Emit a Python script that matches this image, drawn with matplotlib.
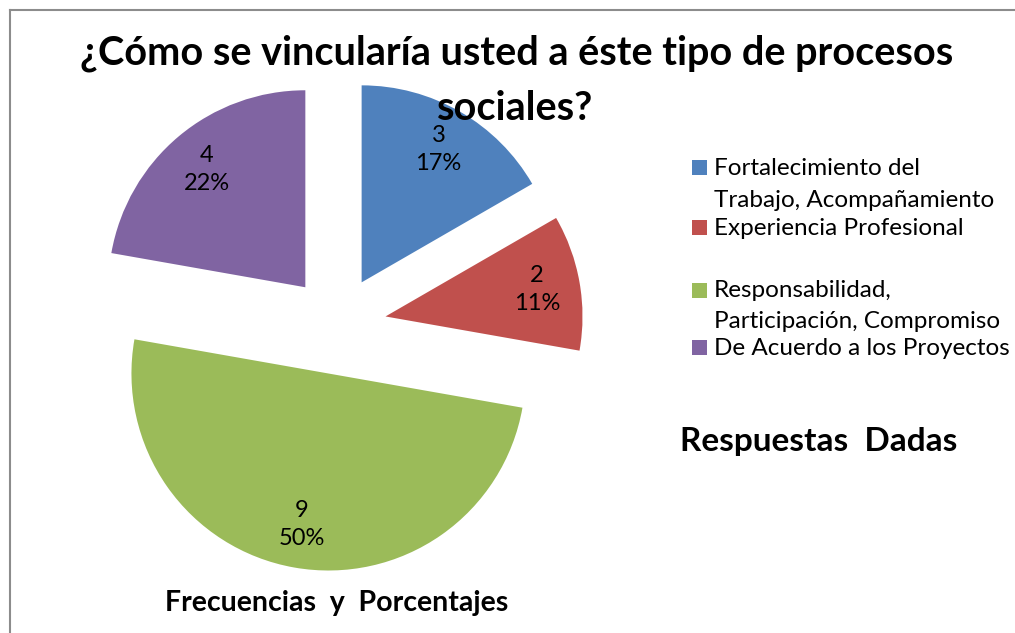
import matplotlib
matplotlib.use("Agg")
import matplotlib.pyplot as plt
from matplotlib.lines import Line2D
from matplotlib.patches import Rectangle

categories = ["Fortalecimiento del\nTrabajo, Acompañamiento",
              "Experiencia Profesional",
              "Responsabilidad,\nParticipación, Compromiso",
              "De Acuerdo a los Proyectos"]
values = [3, 2, 9, 4]
colors = ["#4F81BD", "#C0504D", "#9BBB59", "#8064A2"]
title_lines = ["¿Cómo se vincularía usted a éste tipo de procesos", "sociales?"]
side_title = "Respuestas  Dadas"
bottom_title = "Frecuencias  y  Porcentajes"

W, H = 1015, 633
FONT = "Lato"
fig = plt.figure(figsize=(W / 100, H / 100), dpi=100)

def fx(x):
    return x / W

def fy(y):
    return 1 - y / H

# pie geometry (pixels)
cx, cy, R = 337, 325, 197
ax = fig.add_axes([0, 0, 1, 1])
total = sum(values)

def fmt(p):
    return f"{round(p * total / 100)}\n{p:.0f}%"

ax.pie(values, colors=colors, startangle=90, counterclock=False,
       explode=[0.25] * len(values), radius=1,
       autopct=fmt, pctdistance=0.78,
       textprops=dict(fontsize=17, family=FONT, color="black", linespacing=1.4))
ax.set_xlim(-cx / R, (W - cx) / R)
ax.set_ylim(-(H - cy) / R, cy / R)
ax.set_aspect("equal")
ax.axis("off")

# border
fig.add_artist(Line2D([fx(10), 1], [fy(10), fy(10)], color="#8c8c8c", lw=1.5))
fig.add_artist(Line2D([fx(10), fx(10)], [0, fy(10)], color="#8c8c8c", lw=1.5))

# title
fig.text(fx(517), fy(64), title_lines[0], ha="center", va="baseline",
         fontsize=28.5, fontweight="bold", family=FONT)
fig.text(fx(515), fy(120), title_lines[1], ha="center", va="baseline",
         fontsize=28.5, fontweight="bold", family=FONT)

# legend
sq_centers = [167, 227, 290, 347]
line_baselines = [[175, 207], [235], [297, 328], [355]]
for i, cat in enumerate(categories):
    yc = sq_centers[i]
    fig.add_artist(Rectangle((fx(692), fy(yc + 7.5)), 15 / W, 15 / H,
                             facecolor=colors[i], edgecolor="none"))
    for line, b in zip(cat.split("\n"), line_baselines[i]):
        fig.text(fx(714), fy(b), line, ha="left", va="baseline",
                 fontsize=17.5, family=FONT)

fig.text(fx(819), fy(451), side_title, ha="center", va="baseline",
         fontsize=24, fontweight="bold", family=FONT)
fig.text(fx(337), fy(611), bottom_title, ha="center", va="baseline",
         fontsize=20.5, fontweight="bold", family=FONT)

fig.savefig("out.png", dpi=100)
